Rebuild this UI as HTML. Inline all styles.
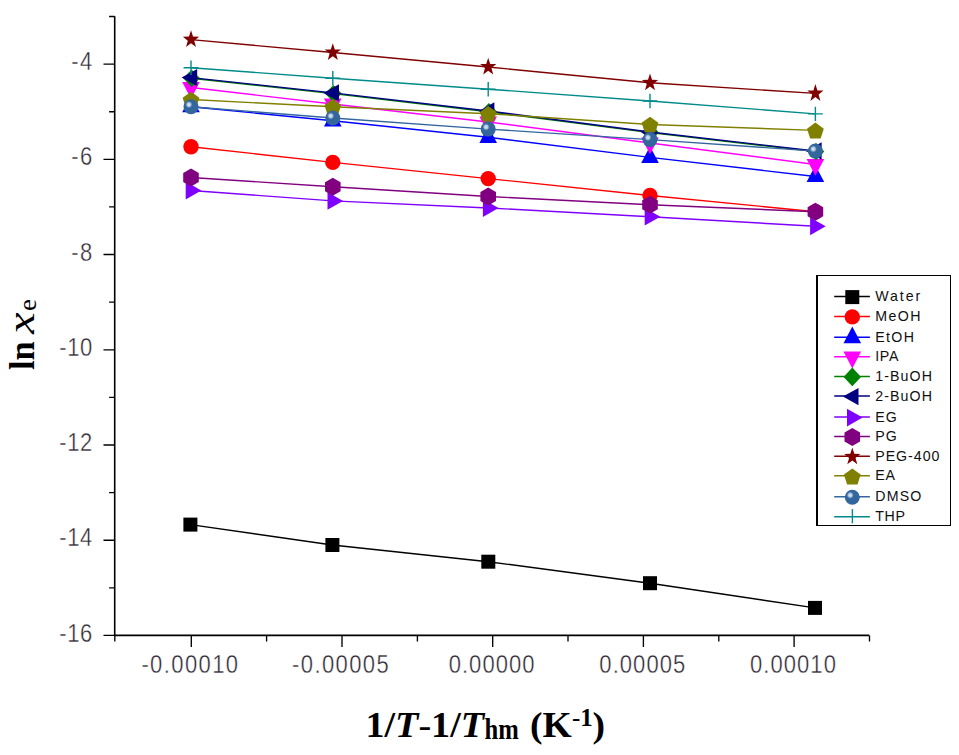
<!DOCTYPE html>
<html><head><meta charset="utf-8"><title>chart</title>
<style>
html,body{margin:0;padding:0;background:#fff;}
body{width:959px;height:755px;overflow:hidden;position:relative;font-family:"Liberation Sans",sans-serif;}
svg{position:absolute;left:0;top:0;display:block;}
.tk{font-family:"Liberation Sans",sans-serif;font-size:25px;fill:#2c2632;stroke:#fff;stroke-width:0.4px;letter-spacing:1.55px;}
.lg{font-family:"Liberation Sans",sans-serif;font-size:14.2px;fill:#101010;}
.ttl{font-family:"Liberation Serif",serif;font-weight:bold;fill:#000;}
</style></head><body>
<svg width="959" height="755" viewBox="0 0 959 755">
<defs><radialGradient id="sph" cx="0.5" cy="0.5" r="0.5">
<stop offset="0" stop-color="#e6edf6" stop-opacity="1"/><stop offset="0.5" stop-color="#b9cde6" stop-opacity="0.9"/><stop offset="1" stop-color="#33669c" stop-opacity="0"/></radialGradient></defs>
<rect width="959" height="755" fill="#fff"/>
<g stroke="#000" stroke-width="1.6" fill="none">
<path d="M114.7 16.3V635.4H869.3"/>
<path d="M114.7 635.4H103.5M114.7 587.8H109.1M114.7 540.2H103.5M114.7 492.6H109.1M114.7 445.0H103.5M114.7 397.4H109.1M114.7 349.8H103.5M114.7 302.1H109.1M114.7 254.5H103.5M114.7 206.9H109.1M114.7 159.3H103.5M114.7 111.7H109.1M114.7 64.1H103.5M114.7 16.5H109.1M114.8 635.4V641.6M191.3 635.4V647.0M266.6 635.4V641.6M342.0 635.4V647.0M417.4 635.4V641.6M492.7 635.4V647.0M568.0 635.4V641.6M643.4 635.4V647.0M718.8 635.4V641.6M794.1 635.4V647.0M869.5 635.4V641.6" stroke-width="1.35"/>
</g>
<text class="tk" transform="translate(93.0,641.5) scale(0.88,1)" text-anchor="end" style="letter-spacing:0.75px">-16</text>
<text class="tk" transform="translate(93.0,546.3) scale(0.88,1)" text-anchor="end" style="letter-spacing:0.75px">-14</text>
<text class="tk" transform="translate(93.0,451.1) scale(0.88,1)" text-anchor="end" style="letter-spacing:0.75px">-12</text>
<text class="tk" transform="translate(93.0,355.9) scale(0.88,1)" text-anchor="end" style="letter-spacing:0.75px">-10</text>
<text class="tk" transform="translate(93.6,260.6) scale(0.88,1)" text-anchor="end" style="letter-spacing:1.55px">-8</text>
<text class="tk" transform="translate(93.6,165.4) scale(0.88,1)" text-anchor="end" style="letter-spacing:1.55px">-6</text>
<text class="tk" transform="translate(93.6,70.2) scale(0.88,1)" text-anchor="end" style="letter-spacing:1.55px">-4</text>
<text class="tk" transform="translate(190.4,673.4) scale(0.88,1)" text-anchor="middle" style="letter-spacing:1.60px">-0.00010</text>
<text class="tk" transform="translate(341.1,673.4) scale(0.88,1)" text-anchor="middle" style="letter-spacing:1.60px">-0.00005</text>
<text class="tk" transform="translate(492.1,673.4) scale(0.88,1)" text-anchor="middle" style="letter-spacing:1.20px">0.00000</text>
<text class="tk" transform="translate(642.8,673.4) scale(0.88,1)" text-anchor="middle" style="letter-spacing:1.20px">0.00005</text>
<text class="tk" transform="translate(793.5,673.4) scale(0.88,1)" text-anchor="middle" style="letter-spacing:1.20px">0.00010</text>
<polyline points="190.4,524.6 332.4,545.0 488.3,561.7 650.0,583.2 815.0,607.9" fill="none" stroke="#000000" stroke-width="1.4"/>
<rect x="183.4" y="517.6" width="14" height="14" fill="#000000"/>
<rect x="325.4" y="538.0" width="14" height="14" fill="#000000"/>
<rect x="481.3" y="554.7" width="14" height="14" fill="#000000"/>
<rect x="643.0" y="576.2" width="14" height="14" fill="#000000"/>
<rect x="808.0" y="600.9" width="14" height="14" fill="#000000"/>
<polyline points="191.0,146.7 332.8,162.4 488.2,178.6 650.0,195.5 815.4,211.7" fill="none" stroke="#FF0000" stroke-width="1.4"/>
<circle cx="191.0" cy="146.7" r="7.7" fill="#FF0000"/>
<circle cx="332.8" cy="162.4" r="7.7" fill="#FF0000"/>
<circle cx="488.2" cy="178.6" r="7.7" fill="#FF0000"/>
<circle cx="650.0" cy="195.5" r="7.7" fill="#FF0000"/>
<circle cx="815.4" cy="211.7" r="7.7" fill="#FF0000"/>
<polyline points="191.0,106.7 332.8,120.8 488.2,137.3 650.0,157.4 815.4,176.5" fill="none" stroke="#0000FF" stroke-width="1.4"/>
<polygon points="191.0,95.5 199.8,112.3 182.2,112.3" fill="#0000FF"/>
<polygon points="332.8,109.6 341.6,126.4 324.0,126.4" fill="#0000FF"/>
<polygon points="488.2,126.1 497.0,142.9 479.4,142.9" fill="#0000FF"/>
<polygon points="650.0,146.2 658.8,163.0 641.2,163.0" fill="#0000FF"/>
<polygon points="815.4,165.3 824.2,182.1 806.6,182.1" fill="#0000FF"/>
<polyline points="191.0,87.5 332.8,104.0 488.2,122.0 650.0,143.0 815.4,164.5" fill="none" stroke="#FF00FF" stroke-width="1.4"/>
<polygon points="191.0,98.7 199.8,81.9 182.2,81.9" fill="#FF00FF"/>
<polygon points="332.8,115.2 341.6,98.4 324.0,98.4" fill="#FF00FF"/>
<polygon points="488.2,133.2 497.0,116.4 479.4,116.4" fill="#FF00FF"/>
<polygon points="650.0,154.2 658.8,137.4 641.2,137.4" fill="#FF00FF"/>
<polygon points="815.4,175.7 824.2,158.9 806.6,158.9" fill="#FF00FF"/>
<polyline points="191.0,78.2 332.8,93.6 488.2,111.8 650.0,132.6 815.4,151.6" fill="none" stroke="#008000" stroke-width="1.4"/>
<polygon points="191.6,69.5 199.9,78.2 191.6,86.9 183.3,78.2" fill="#008000"/>
<polygon points="333.4,84.9 341.7,93.6 333.4,102.3 325.1,93.6" fill="#008000"/>
<polygon points="488.8,103.1 497.1,111.8 488.8,120.5 480.5,111.8" fill="#008000"/>
<polygon points="650.6,123.9 658.9,132.6 650.6,141.3 642.3,132.6" fill="#008000"/>
<polygon points="816.0,142.9 824.3,151.6 816.0,160.3 807.7,151.6" fill="#008000"/>
<polyline points="191.0,77.6 332.8,92.9 488.2,111.0 650.0,132.0 815.4,151.0" fill="none" stroke="#000080" stroke-width="1.4"/>
<polygon points="181.6,77.6 197.2,68.9 197.2,86.3" fill="#000080"/>
<polygon points="323.4,92.9 339.0,84.2 339.0,101.6" fill="#000080"/>
<polygon points="478.8,111.0 494.4,102.3 494.4,119.7" fill="#000080"/>
<polygon points="640.6,132.0 656.2,123.3 656.2,140.7" fill="#000080"/>
<polygon points="806.0,151.0 821.6,142.3 821.6,159.7" fill="#000080"/>
<polyline points="191.0,190.5 332.8,200.9 488.2,208.0 650.0,216.7 815.4,226.3" fill="none" stroke="#8000FF" stroke-width="1.4"/>
<polygon points="201.3,190.5 185.7,181.6 185.7,199.4" fill="#8000FF"/>
<polygon points="343.1,200.9 327.5,192.0 327.5,209.8" fill="#8000FF"/>
<polygon points="498.5,208.0 482.9,199.1 482.9,216.9" fill="#8000FF"/>
<polygon points="660.3,216.7 644.7,207.8 644.7,225.6" fill="#8000FF"/>
<polygon points="825.7,226.3 810.1,217.4 810.1,235.2" fill="#8000FF"/>
<polyline points="191.0,177.5 332.8,186.7 488.2,196.5 650.0,204.8 815.4,211.7" fill="none" stroke="#800080" stroke-width="1.4"/>
<polygon points="191.0,168.5 198.8,173.0 198.8,182.0 191.0,186.5 183.2,182.0 183.2,173.0" fill="#800080"/>
<polygon points="332.8,177.7 340.6,182.2 340.6,191.2 332.8,195.7 325.0,191.2 325.0,182.2" fill="#800080"/>
<polygon points="488.2,187.5 496.0,192.0 496.0,201.0 488.2,205.5 480.4,201.0 480.4,192.0" fill="#800080"/>
<polygon points="650.0,195.8 657.8,200.3 657.8,209.3 650.0,213.8 642.2,209.3 642.2,200.3" fill="#800080"/>
<polygon points="815.4,202.7 823.2,207.2 823.2,216.2 815.4,220.7 807.6,216.2 807.6,207.2" fill="#800080"/>
<polyline points="191.0,39.6 332.8,52.5 488.2,67.0 650.0,82.8 815.4,93.4" fill="none" stroke="#800000" stroke-width="1.4"/>
<polygon points="191.0,30.3 193.0,36.6 199.1,36.7 194.2,40.7 196.0,47.1 191.0,43.3 186.0,47.1 187.8,40.7 182.9,36.7 189.0,36.6" fill="#800000"/>
<polygon points="332.8,43.2 334.8,49.5 340.9,49.6 336.0,53.6 337.8,60.0 332.8,56.2 327.8,60.0 329.6,53.6 324.7,49.6 330.8,49.5" fill="#800000"/>
<polygon points="488.2,57.7 490.2,64.0 496.3,64.1 491.4,68.1 493.2,74.5 488.2,70.7 483.2,74.5 485.0,68.1 480.1,64.1 486.2,64.0" fill="#800000"/>
<polygon points="650.0,73.5 652.0,79.8 658.1,79.9 653.2,83.9 655.0,90.3 650.0,86.5 645.0,90.3 646.8,83.9 641.9,79.9 648.0,79.8" fill="#800000"/>
<polygon points="815.4,84.1 817.4,90.4 823.5,90.5 818.6,94.5 820.4,100.9 815.4,97.1 810.4,100.9 812.2,94.5 807.3,90.5 813.4,90.4" fill="#800000"/>
<polyline points="191.0,99.5 332.8,106.8 488.2,113.7 650.0,124.5 815.4,130.4" fill="none" stroke="#808000" stroke-width="1.4"/>
<polygon points="191.0,91.7 199.4,97.8 196.2,107.6 185.8,107.6 182.6,97.8" fill="#808000"/>
<polygon points="332.8,99.0 341.2,105.1 338.0,114.9 327.6,114.9 324.4,105.1" fill="#808000"/>
<polygon points="488.2,105.9 496.6,112.0 493.4,121.8 483.0,121.8 479.8,112.0" fill="#808000"/>
<polygon points="650.0,116.7 658.4,122.8 655.2,132.6 644.8,132.6 641.6,122.8" fill="#808000"/>
<polygon points="815.4,122.6 823.8,128.7 820.6,138.5 810.2,138.5 807.0,128.7" fill="#808000"/>
<polyline points="191.0,106.7 332.8,118.0 488.2,129.1 650.0,139.6 815.4,151.1" fill="none" stroke="#33669F" stroke-width="1.4"/>
<circle cx="191.0" cy="106.7" r="7.5" fill="#33669c"/><circle cx="188.9" cy="104.6" r="4.0" fill="url(#sph)"/>
<circle cx="332.8" cy="118.0" r="7.5" fill="#33669c"/><circle cx="330.7" cy="115.9" r="4.0" fill="url(#sph)"/>
<circle cx="488.2" cy="129.1" r="7.5" fill="#33669c"/><circle cx="486.1" cy="127.0" r="4.0" fill="url(#sph)"/>
<circle cx="650.0" cy="139.6" r="7.5" fill="#33669c"/><circle cx="647.9" cy="137.5" r="4.0" fill="url(#sph)"/>
<circle cx="815.4" cy="151.1" r="7.5" fill="#33669c"/><circle cx="813.3" cy="149.0" r="4.0" fill="url(#sph)"/>
<polyline points="191.0,67.7 332.8,78.3 488.2,89.2 650.0,101.0 815.4,113.9" fill="none" stroke="#008B8B" stroke-width="1.4"/>
<path d="M183.6 67.7H198.4M191.0 60.5V74.9" stroke="#008B8B" stroke-width="1.4" fill="none"/>
<path d="M325.4 78.3H340.2M332.8 71.1V85.5" stroke="#008B8B" stroke-width="1.4" fill="none"/>
<path d="M480.8 89.2H495.6M488.2 82.0V96.4" stroke="#008B8B" stroke-width="1.4" fill="none"/>
<path d="M642.6 101.0H657.4M650.0 93.8V108.2" stroke="#008B8B" stroke-width="1.4" fill="none"/>
<path d="M808.0 113.9H822.8M815.4 106.7V121.1" stroke="#008B8B" stroke-width="1.4" fill="none"/>
<rect x="817.1" y="275.4" width="133.6" height="249.8" fill="#fff" stroke="#000" stroke-width="1.2" shape-rendering="crispEdges"/>
<path d="M834.2 296.6H869.9" stroke="#000000" stroke-width="1.5"/>
<rect x="845.3" y="290.1" width="14" height="14" fill="#000000"/>
<text class="lg" x="875.2" y="301.2" textLength="45.0" lengthAdjust="spacing">Water</text>
<path d="M834.2 316.4H869.9" stroke="#FF0000" stroke-width="1.5"/>
<circle cx="852.3" cy="316.9" r="7.7" fill="#FF0000"/>
<text class="lg" x="875.2" y="321.0" textLength="45.4" lengthAdjust="spacing">MeOH</text>
<path d="M834.2 337.2H869.9" stroke="#0000FF" stroke-width="1.5"/>
<polygon points="852.3,326.5 861.1,343.3 843.5,343.3" fill="#0000FF"/>
<text class="lg" x="875.2" y="341.8" textLength="38.8" lengthAdjust="spacing">EtOH</text>
<path d="M834.2 356.7H869.9" stroke="#FF00FF" stroke-width="1.5"/>
<polygon points="852.3,368.4 861.1,351.6 843.5,351.6" fill="#FF00FF"/>
<text class="lg" x="875.2" y="361.3" textLength="23.2" lengthAdjust="spacing">IPA</text>
<path d="M834.2 376.4H869.9" stroke="#008000" stroke-width="1.5"/>
<polygon points="852.3,367.6 861.0,376.9 852.3,386.2 843.6,376.9" fill="#008000"/>
<text class="lg" x="875.2" y="381.0" textLength="56.8" lengthAdjust="spacing">1-BuOH</text>
<path d="M834.2 396.1H869.9" stroke="#000080" stroke-width="1.5"/>
<polygon points="842.9,396.6 858.5,387.9 858.5,405.3" fill="#000080"/>
<text class="lg" x="875.2" y="400.7" textLength="56.8" lengthAdjust="spacing">2-BuOH</text>
<path d="M834.2 417.1H869.9" stroke="#8000FF" stroke-width="1.5"/>
<polygon points="862.6,417.6 847.0,408.7 847.0,426.5" fill="#8000FF"/>
<text class="lg" x="875.2" y="421.7" textLength="21.6" lengthAdjust="spacing">EG</text>
<path d="M834.2 436.5H869.9" stroke="#800080" stroke-width="1.5"/>
<polygon points="852.3,428.0 860.1,432.5 860.1,441.5 852.3,446.0 844.5,441.5 844.5,432.5" fill="#800080"/>
<text class="lg" x="875.2" y="441.1" textLength="21.6" lengthAdjust="spacing">PG</text>
<path d="M834.2 456.3H869.9" stroke="#800000" stroke-width="1.5"/>
<polygon points="852.3,447.5 854.3,453.8 860.4,453.9 855.5,457.9 857.3,464.3 852.3,460.5 847.3,464.3 849.1,457.9 844.2,453.9 850.3,453.8" fill="#800000"/>
<text class="lg" x="875.2" y="460.9" textLength="64.2" lengthAdjust="spacing">PEG-400</text>
<path d="M834.2 475.8H869.9" stroke="#808000" stroke-width="1.5"/>
<polygon points="852.3,468.5 860.7,474.6 857.5,484.4 847.1,484.4 843.9,474.6" fill="#808000"/>
<text class="lg" x="875.2" y="480.4" textLength="19.8" lengthAdjust="spacing">EA</text>
<path d="M834.2 496.8H869.9" stroke="#33669F" stroke-width="1.5"/>
<circle cx="852.3" cy="497.3" r="7.5" fill="#33669c"/><circle cx="850.2" cy="495.2" r="4.0" fill="url(#sph)"/>
<text class="lg" x="875.2" y="501.4" textLength="46.2" lengthAdjust="spacing">DMSO</text>
<path d="M834.2 516.7H869.9" stroke="#008B8B" stroke-width="1.5"/>
<path d="M852.4 509.1V523.3" stroke="#008B8B" stroke-width="1.4"/>
<text class="lg" x="875.2" y="521.3" textLength="29.8" lengthAdjust="spacing">THP</text>
<text class="ttl" transform="translate(34.20,370.00) rotate(-90) scale(0.940,1.000)" font-size="36.50" >ln</text>
<text class="ttl" transform="translate(34.40,334.00) rotate(-90) scale(1.300,1.000)" font-size="37.40" style="font-style:italic;font-weight:normal">x</text>
<text class="ttl" transform="translate(35.70,311.00) rotate(-90) scale(1.140,1.100)" font-size="23.60" style="font-weight:normal">e</text>
<text class="ttl" transform="translate(365.40,737.00) scale(1.075,1)" font-size="35.50" >1/<tspan font-style="italic">T</tspan><tspan font-weight="normal">-</tspan>1/<tspan font-style="italic">T</tspan></text>
<text class="ttl" transform="translate(484.60,738.50) scale(0.830,1)" font-size="29.70" >hm</text>
<text class="ttl" transform="translate(530.00,737.20) scale(1.060,1)" font-size="35.50" >(K</text>
<text class="ttl" transform="translate(572.00,726.40) scale(1.000,1)" font-size="25.00" ><tspan font-weight="normal">-</tspan>1</text>
<text class="ttl" transform="translate(592.40,737.20) scale(1.060,1)" font-size="35.50" >)</text>
</svg></body></html>
